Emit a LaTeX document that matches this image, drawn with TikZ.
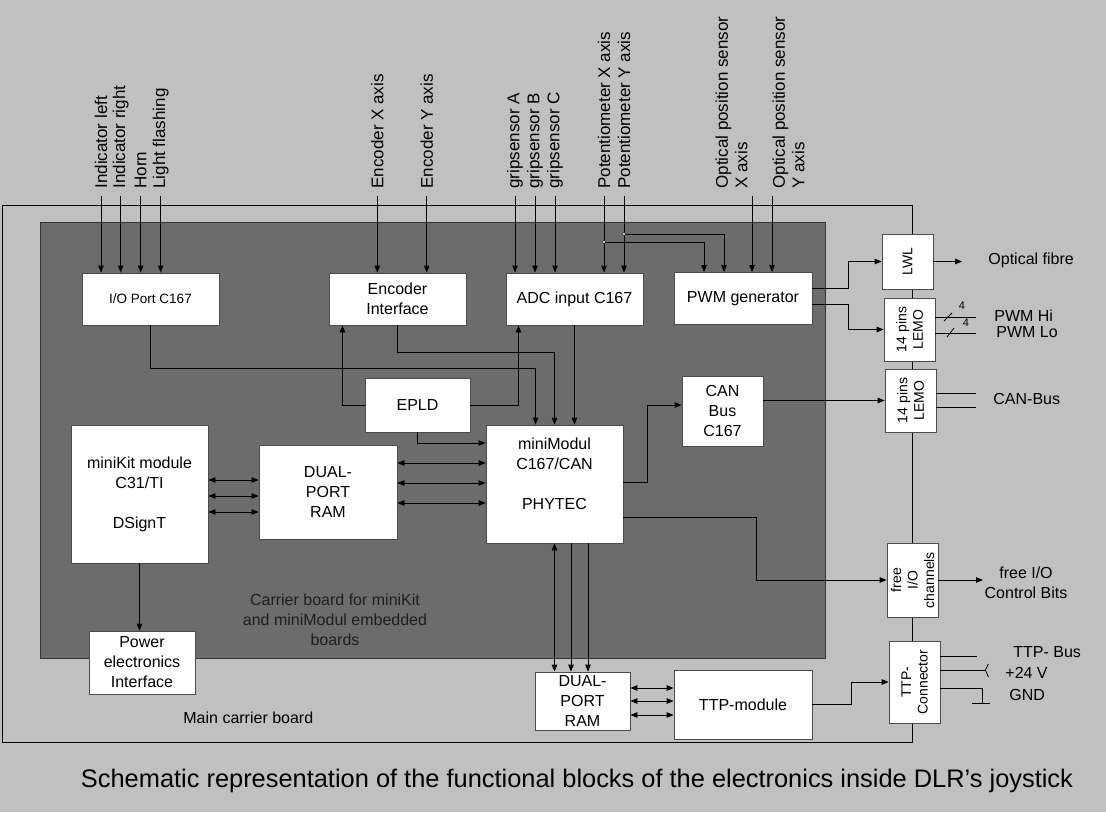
\documentclass[tikz,border=0pt]{standalone}
\usepackage{fontspec}
\setmainfont{Liberation Sans}
\usetikzlibrary{arrows.meta}

\definecolor{bggray}{RGB}{192,192,192}
\definecolor{boardgray}{RGB}{108,108,108}
\definecolor{boardtext}{RGB}{30,30,30}

\begin{document}
\begin{tikzpicture}[x=1pt,y=-1pt,line width=0.8pt,
  blk/.style={draw=black!70,fill=white,align=center,inner sep=0pt,font=\fontsize{16}{20}\selectfont},
  con/.style={rotate=90,align=center,inner sep=0pt,font=\fontsize{14}{16.5}\selectfont},
  sig/.style={rotate=90,anchor=west,align=left,inner sep=0pt,font=\fontsize{17}{19.5}\selectfont},
  txt/.style={inner sep=0pt,align=center,font=\fontsize{16}{20}\selectfont},
  arr/.style={-{Triangle[length=7pt,width=5.5pt]}},
  dbl/.style={{Triangle[length=7pt,width=5.5pt]}-{Triangle[length=7pt,width=5.5pt]}}]

\fill[bggray] (0,0) rectangle (1106,812);
\useasboundingbox (0,0) rectangle (1106,812);

\draw (2,205) rectangle (912,742);
\filldraw[fill=boardgray,draw=black!80] (40,222) rectangle (825,658);
\node[txt] (carrier) at (335,620) {\color{boardtext}Carrier board for miniKit\\\color{boardtext}and miniModul embedded\\\color{boardtext}boards};

\node[blk,minimum width=137pt,minimum height=52pt,font=\fontsize{13.5}{16}\selectfont] (ioport) at (150.5,299) {I/O Port C167};
\node[blk,minimum width=137pt,minimum height=52pt] (encif) at (397.5,299) {Encoder\\Interface};
\node[blk,minimum width=137pt,minimum height=52pt] (adc) at (574.5,299) {ADC input C167};
\node[blk,minimum width=138pt,minimum height=52pt] (pwm) at (743,298.5) {PWM generator};
\node[blk,minimum width=105pt,minimum height=54pt] (epld) at (417.5,405) {EPLD};
\node[blk,minimum width=137pt,minimum height=138pt] (minikit) at (139.5,494) {miniKit module\\C31/TI\\[20pt]DSignT};
\node[blk,minimum width=138pt,minimum height=94pt] (dpr) at (328,492) {DUAL-\\PORT\\RAM};
\node[blk,minimum width=137pt,minimum height=118pt] (minimod) at (554.5,484) {miniModul\\C167/CAN\\[20pt]PHYTEC\\~};
\node[blk,minimum width=81pt,minimum height=70pt] (canbus) at (722.5,411) {CAN\\Bus\\C167};
\node[blk,minimum width=106pt,minimum height=63pt] (power) at (142,662.5) {Power\\electronics\\Interface};
\node[blk,minimum width=95pt,minimum height=58pt] (dpr2) at (582.5,701) {DUAL-\\PORT\\RAM};
\node[blk,minimum width=138pt,minimum height=69pt] (ttpmod) at (743,704.5) {TTP-module};

\node[blk,minimum width=51pt,minimum height=55pt] (lwl) at (907.5,261.5) {};
\node[blk,minimum width=51pt,minimum height=63pt] (lemo1) at (909.5,329.5) {};
\node[blk,minimum width=51pt,minimum height=63pt] (lemo2) at (910.5,400.5) {};
\node[blk,minimum width=51pt,minimum height=74pt] (freeio) at (912.5,580) {};
\node[blk,minimum width=51pt,minimum height=82pt] (ttpcon) at (914.5,682) {};
\node[con] (lwltxt) at (lwl) {LWL};
\node[con] (lemo1txt) at (lemo1) {14 pins\\LEMO};
\node[con] (lemo2txt) at (lemo2) {14 pins\\LEMO};
\node[con] (freeiotxt) at (freeio) {free\\I/O\\channels};
\node[con] (ttpcontxt) at (ttpcon) {TTP-\\Connector};

\node[sig] (tinl) at (101,189) {Indicator left};
\node[sig] (tinr) at (120.7,189) {Indicator right};
\node[sig] (thorn) at (140.7,189) {Horn};
\node[sig] (tlight) at (160.7,189) {Light flashing};
\node[sig] (tencx) at (377.3,189) {Encoder X axis};
\node[sig] (tency) at (426.7,189) {Encoder Y axis};
\node[sig] (tgra) at (515,189) {gripsensor A};
\node[sig] (tgrb) at (535,189) {gripsensor B};
\node[sig] (tgrc) at (555,189) {gripsensor C};
\node[sig] (tpotx) at (604,189) {Potentiometer X axis};
\node[sig] (tpoty) at (624,189) {Potentiometer Y axis};
\node[sig] (toptx) at (731.5,189) {Optical position sensor\\X axis};
\node[sig] (topty) at (788.5,189) {Optical position sensor\\Y axis};

\coordinate (inl) at (101,196);
\coordinate (inr) at (120.7,196);
\coordinate (horn) at (140.7,196);
\coordinate (light) at (160.7,196);
\coordinate (encx) at (377.3,196);
\coordinate (ency) at (426.7,196);
\coordinate (gra) at (515,196);
\coordinate (grb) at (535,196);
\coordinate (grc) at (555,196);
\coordinate (potx) at (604,196);
\coordinate (poty) at (624,196);
\coordinate (optx) at (752,196);
\coordinate (opty) at (772,196);
\coordinate (jpx) at (604,242);
\coordinate (jpy) at (624,234);

\draw[arr] (inl) -- (inl |- ioport.north);
\draw[arr] (inr) -- (inr |- ioport.north);
\draw[arr] (horn) -- (horn |- ioport.north);
\draw[arr] (light) -- (light |- ioport.north);
\draw[arr] (encx) -- (encx |- encif.north);
\draw[arr] (ency) -- (ency |- encif.north);
\draw[arr] (gra) -- (gra |- adc.north);
\draw[arr] (grb) -- (grb |- adc.north);
\draw[arr] (grc) -- (grc |- adc.north);
\draw[arr] (potx) -- (potx |- adc.north);
\draw[arr] (poty) -- (poty |- adc.north);
\draw[arr] (optx) -- (optx |- pwm.north);
\draw[arr] (opty) -- (opty |- pwm.north);
\draw[arr] (jpx) -| ([xshift=-39pt]pwm.north);
\draw[arr] (jpy) -| ([xshift=-19pt]pwm.north);
\filldraw[fill=white,line width=0.4pt] (jpx) circle (1.6pt);
\filldraw[fill=white,line width=0.4pt] (jpy) circle (1.6pt);

\draw[arr] (ioport.south) -- ++(0,43) -| ([xshift=-19pt]minimod.north);
\draw[arr] (encif.south) -- ++(0,27) -| (minimod.north);
\draw[arr] (epld.west) -| ([xshift=-55pt]encif.south);
\draw[arr] (epld.east) -| ([xshift=-56pt]adc.south);
\draw[arr] (adc.south) -- (adc.south |- minimod.north);
\draw[arr] (epld.south) |- ([yshift=41pt]minimod.west);
\draw[dbl] (dpr.east |- 0,463) -- (minimod.west |- 0,463);
\draw[dbl] (dpr.east |- 0,483) -- (minimod.west |- 0,483);
\draw[dbl] (dpr.east |- 0,503) -- (minimod.west |- 0,503);
\draw[dbl] (minikit.east |- 0,480) -- (dpr.west |- 0,480);
\draw[dbl] (minikit.east |- 0,496) -- (dpr.west |- 0,496);
\draw[dbl] (minikit.east |- 0,512) -- (dpr.west |- 0,512);
\draw[arr] (minikit.south) -- (minikit.south |- power.north);
\draw[arr] ([yshift=2pt]minimod.east) -- ++(24,0) |- ([yshift=6pt]canbus.west);
\draw[arr] (lemo2.west -| canbus.east) -- (lemo2.west);
\draw[arr] ([yshift=-33pt]minimod.east) -- ++(133,0) |- (freeio.west);
\draw[arr] ([yshift=10pt]pwm.east) -- ++(36,0) |- (lwl.west);
\draw[arr] ([yshift=-6pt]pwm.east) -- ++(36,0) |- (lemo1.west);

\coordinate (mb1) at (minimod.south);
\coordinate (mb2) at ([xshift=16.5pt]minimod.south);
\coordinate (mb3) at ([xshift=33.5pt]minimod.south);
\draw[dbl] (mb1) -- (mb1 |- dpr2.north);
\draw[arr] (mb2) -- (mb2 |- dpr2.north);
\draw[arr] (mb3) -- (mb3 |- dpr2.north);
\draw[dbl] (dpr2.east |- 0,688) -- (ttpmod.west |- 0,688);
\draw[dbl] (dpr2.east |- 0,701) -- (ttpmod.west |- 0,701);
\draw[dbl] (dpr2.east |- 0,715) -- (ttpmod.west |- 0,715);
\draw[arr] (ttpmod.east) -- ++(39,0) |- (ttpcon.west);

\coordinate (fibreend) at (962,261.5);
\draw[arr] (lwl.east) -- (fibreend);
\node[txt,anchor=west] (fibre) at (988,260) {Optical fibre};

\draw ([yshift=12.5pt]lemo1.east) -- ++(41,0);
\draw ([yshift=-3.5pt]lemo1.east) -- ++(41,0);
\draw (944,321) -- (952,313);
\draw (947,337) -- (954,328);
\node[inner sep=0pt,font=\fontsize{11}{13}\selectfont] (nhi) at (962,306) {4};
\node[inner sep=0pt,font=\fontsize{11}{13}\selectfont] (nlo) at (966,323) {4};
\node[txt,anchor=west] (pwmhi) at (994,316) {PWM Hi};
\node[txt,anchor=west] (pwmlo) at (996,332) {PWM Lo};

\draw ([yshift=7.5pt]lemo2.east) -- ++(40,0);
\draw ([yshift=-6.5pt]lemo2.east) -- ++(40,0);
\node[txt,anchor=west] (canbustxt) at (993,399) {CAN-Bus};

\coordinate (ioend) at (983,580);
\draw[arr] (freeio.east) -- (ioend);
\node[txt] (iotxt) at (1026,583) {free I/O\\Control Bits};

\draw ([yshift=26pt]ttpcon.east) -- ++(37,0);
\draw ([yshift=12pt]ttpcon.east) -- ++(45,0) coordinate (vplus);
\draw ([shift={(3pt,6pt)}]vplus) -- (vplus) -- ([shift={(3pt,-7pt)}]vplus);
\draw ([yshift=-6pt]ttpcon.east) -- ++(42,0) -- ++(0,15) coordinate (gnd);
\draw ([xshift=-10pt]gnd) -- ([xshift=8pt]gnd);
\node[txt,anchor=west] (ttpbus) at (1013,652) {TTP- Bus};
\node[txt,anchor=west] (plus24) at (1005,673) {+24 V};
\node[txt,anchor=west] (gndtxt) at (1009,695) {GND};

\node[txt,anchor=west] (mainboard) at (183,718) {Main carrier board};
\node[inner sep=0pt,font=\fontsize{25.4}{30}\selectfont] (caption) at (577,781) {Schematic representation of the functional blocks of the electronics inside DLR's joystick};
\end{tikzpicture}
\end{document}
